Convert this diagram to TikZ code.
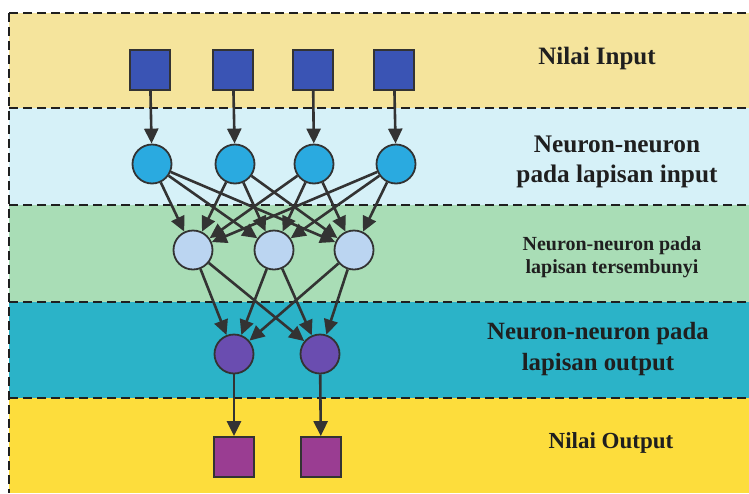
\documentclass[tikz,border=0pt]{standalone}
\usepackage{fontspec}
\setmainfont{Liberation Serif}
\usetikzlibrary{arrows.meta}
\definecolor{bandA}{HTML}{F5E49C}
\definecolor{bandB}{HTML}{D6F1F8}
\definecolor{bandC}{HTML}{A9DDB6}
\definecolor{bandD}{HTML}{2BB3C8}
\definecolor{bandE}{HTML}{FDDD3C}
\definecolor{insq}{HTML}{3A54B4}
\definecolor{inneu}{HTML}{2AAAE0}
\definecolor{hidneu}{HTML}{BBD5F1}
\definecolor{outneu}{HTML}{6A4DB0}
\definecolor{outsq}{HTML}{9A3D92}
\definecolor{ink}{HTML}{333333}
\tikzset{
  sq/.style={draw=ink, line width=1.8pt, minimum size=40pt, inner sep=0pt},
  neu/.style={circle, draw=ink, line width=1.8pt, minimum size=39pt, inner sep=0pt},
  conn/.style={draw=ink, line width=2.6pt, -{Triangle[length=15pt,width=14pt]}, shorten >=0pt},
  sep/.style={draw=black!88, line width=2.6pt, dash pattern=on 9pt off 5pt},
  lbl/.style={text=black!88, align=center, inner sep=0pt}
}
\begin{document}
\begin{tikzpicture}[x=1pt,y=-1pt]
\useasboundingbox (0,0) rectangle (749,493);
\fill[white] (0,0) rectangle (749,493);
% bands
\fill[bandA] (9,13) rectangle (749,108);
\fill[bandB] (9,108) rectangle (749,205);
\fill[bandC] (9,205) rectangle (749,302);
\fill[bandD] (9,302) rectangle (749,398);
\fill[bandE] (9,398) rectangle (749,493);
% dashed separators
\foreach \yy in {13,108,205,302,398}{\draw[sep] (9,\yy) -- (749,\yy);}
\draw[sep] (9,13) -- (9,493);
% input squares
\node[sq, fill=insq] (i1) at (150,70) {};
\node[sq, fill=insq] (i2) at (233,70) {};
\node[sq, fill=insq] (i3) at (313,70) {};
\node[sq, fill=insq] (i4) at (394,70) {};
% input neurons
\node[neu, fill=inneu] (n1) at (152,164) {};
\node[neu, fill=inneu] (n2) at (235,164) {};
\node[neu, fill=inneu] (n3) at (314,164) {};
\node[neu, fill=inneu] (n4) at (396,164) {};
% hidden neurons
\node[neu, fill=hidneu] (h1) at (193,250) {};
\node[neu, fill=hidneu] (h2) at (274,250) {};
\node[neu, fill=hidneu] (h3) at (354,250) {};
% output neurons
\node[neu, fill=outneu] (o1) at (234,354) {};
\node[neu, fill=outneu] (o2) at (320,354) {};
% output squares
\node[sq, fill=outsq] (s1) at (234,457) {};
\node[sq, fill=outsq] (s2) at (321,457) {};
% connections
\foreach \k in {1,2,3,4}{\draw[conn] (i\k) -- (n\k);}
\foreach \a in {1,2,3,4}{\foreach \b in {1,2,3}{\draw[conn] (n\a) -- (h\b);}}
\foreach \a in {1,2,3}{\foreach \b in {1,2}{\draw[conn] (h\a) -- (o\b);}}
\draw[conn] (o1) -- (s1);
\draw[conn] (o2) -- (s2);
% labels
\node[lbl, font=\fontsize{25}{29}\selectfont\bfseries] (t1) at (597,58) {Nilai Input};
\node[lbl, font=\fontsize{25.3}{30}\selectfont\bfseries] (t2) at (617,162) {Neuron-neuron\\pada lapisan input};
\node[lbl, font=\fontsize{20}{23}\selectfont\bfseries] (t3) at (612,257) {Neuron-neuron pada\\lapisan tersembunyi};
\node[lbl, font=\fontsize{24.8}{31}\selectfont\bfseries] (t4) at (598,349) {Neuron-neuron pada\\lapisan output};
\node[lbl, font=\fontsize{23}{27}\selectfont\bfseries] (t5) at (611,443) {Nilai Output};
\end{tikzpicture}
\end{document}
